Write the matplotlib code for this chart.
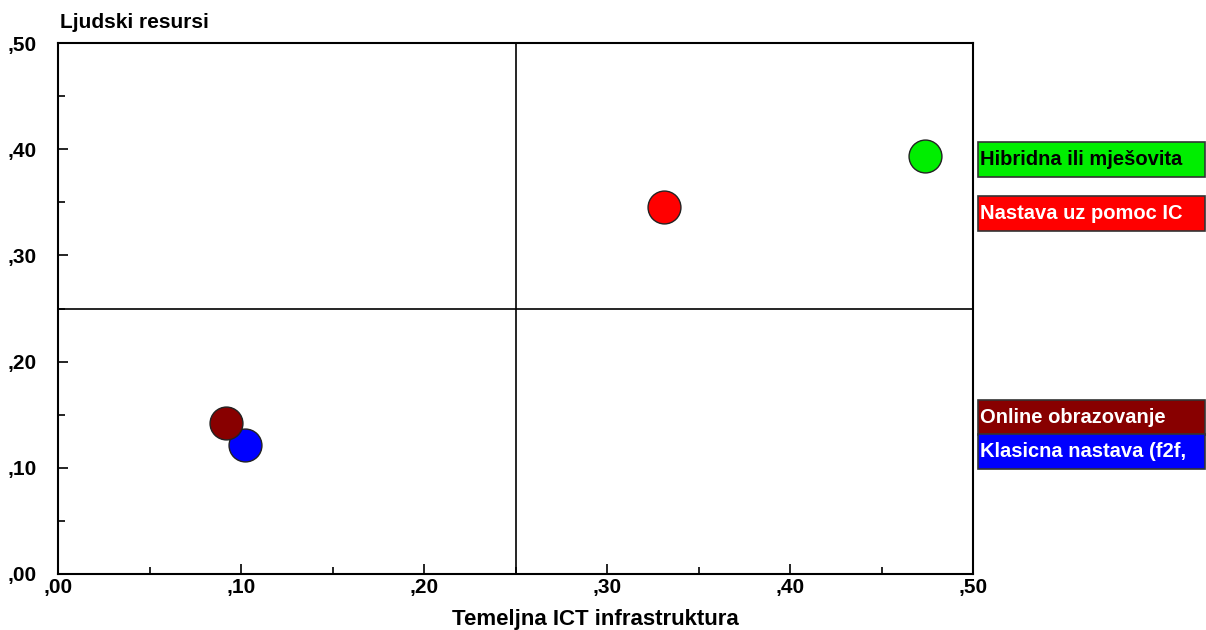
import matplotlib
matplotlib.use("Agg")
import matplotlib.pyplot as plt
from matplotlib.patches import Rectangle

# data
labels = ["Hibridna ili mješovita", "Nastava uz pomoc IC",
          "Online obrazovanje", "Klasicna nastava (f2f,"]
ict = [0.474, 0.331, 0.092, 0.102]
ljudski = [0.394, 0.346, 0.142, 0.121]
colors = ["#00ee00", "#ff0000", "#880000", "#0000ff"]
text_colors = ["black", "white", "white", "white"]
ticks = [0.0, 0.1, 0.2, 0.3, 0.4, 0.5]
tick_labels = [",00", ",10", ",20", ",30", ",40", ",50"]

plt.rcParams["font.family"] = ["Liberation Sans", "DejaVu Sans"]

W, H = 1206, 630
fig = plt.figure(figsize=(W / 100, H / 100), dpi=100)
ax = fig.add_axes([58 / W, 1 - 574 / H, (973 - 58) / W, (574 - 43) / H])

ax.set_xlim(0, 0.5)
ax.set_ylim(0, 0.5)
ax.axvline(0.25, color="black", lw=1.2)
ax.axhline(0.25, color="black", lw=1.2)

# draw back to front: blue under dark red as in the original
order = [0, 1, 3, 2]
for i in order:
    ax.scatter(ict[i], ljudski[i], s=560, color=colors[i],
               edgecolor="#222222", linewidth=1.0, zorder=3)

ax.set_xticks(ticks)
ax.set_xticklabels(tick_labels)
ax.set_yticks(ticks)
ax.set_yticklabels(tick_labels)
ax.set_xticks([0.05, 0.15, 0.25, 0.35, 0.45], minor=True)
ax.set_yticks([0.05, 0.15, 0.25, 0.35, 0.45], minor=True)
ax.tick_params(axis="both", which="both", direction="in", width=1.2)
ax.tick_params(axis="both", which="major", length=7, labelsize=15)
ax.tick_params(axis="both", which="minor", length=5)
ax.tick_params(axis="y", which="major", pad=15)
ax.tick_params(axis="x", which="major", pad=3)
for lab in ax.get_xticklabels() + ax.get_yticklabels():
    lab.set_fontweight("bold")
for lab in ax.get_yticklabels():
    lab.set_verticalalignment("center_baseline")
for sp in ax.spines.values():
    sp.set_linewidth(1.5)

fig.text(595 / W, 1 - 619 / H, "Temeljna ICT infrastruktura", fontsize=16,
         fontweight="bold", va="center", ha="center")
fig.text(60 / W, 1 - 22 / H, "Ljudski resursi", fontsize=15,
         fontweight="bold", va="center", ha="left")

# legend boxes at the right edge
box_tops = [142, 196, 400, 434]
box_h = 35
for lab, c, tc, top in zip(labels, colors, text_colors, box_tops):
    fig.patches.append(Rectangle((978 / W, 1 - (top + box_h) / H),
                                 (1205 - 978) / W, box_h / H,
                                 transform=fig.transFigure,
                                 facecolor=c, edgecolor="#333333", lw=1.2))
    fig.text(980 / W, 1 - (top + box_h / 2) / H, lab, color=tc,
             fontsize=14.5, fontweight="bold", va="center", ha="left")

fig.savefig("out.png", dpi=100)
